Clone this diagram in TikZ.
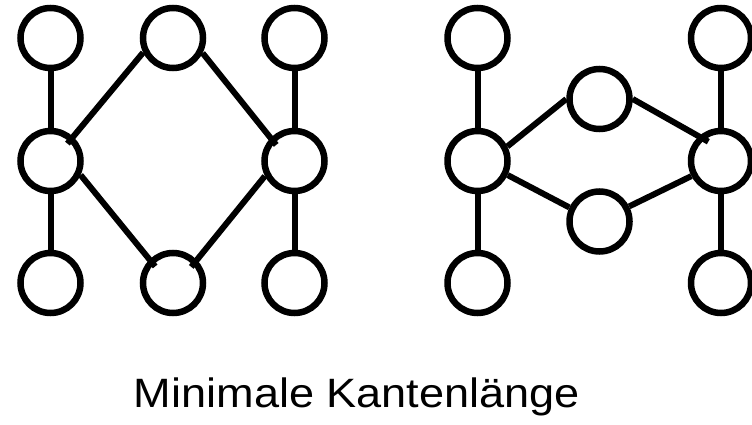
\documentclass[tikz,border=0pt]{standalone}
\usepackage{fontspec}
\setmainfont{Liberation Sans}
\begin{document}
\begin{tikzpicture}[x=1pt,y=1pt]
        \useasboundingbox (0,0) rectangle (752,424);

        \begin{scope}[every node/.style={circle,draw,line width=6.5pt,minimum size=60pt,inner sep=0pt}]
          \node (1)  at (50.5,386)  {};
          \node (2)  at (50.5,263)  {};
          \node (3)  at (50.5,141)  {};
          \node (4)  at (173,386)   {};
          \node (5)  at (173,141)   {};
          \node (6)  at (294.5,386) {};
          \node (7)  at (294.5,263) {};
          \node (8)  at (294.5,141) {};
          \node (9)  at (477.5,386) {};
          \node (10) at (477.5,263) {};
          \node (11) at (477.5,141) {};
          \node (12) at (599.5,325) {};
          \node (13) at (599.5,202.5) {};
          \node (14) at (721,386)   {};
          \node (15) at (721,263)   {};
          \node (16) at (721,141)   {};
        \end{scope}

        \begin{scope}[every edge/.style={draw,line width=6pt}]
          \path (1)  edge (2);
          \path (2)  edge (3);
          \path (6)  edge (7);
          \path (7)  edge (8);
          \path (4.206) edge[shorten >=-9pt] (2.47);
          \path (4.333) edge[shorten >=-9pt] (7.136);
          \path (2.335) edge[shorten >=-9pt] (5.135);
          \path (7.207) edge[shorten >=-9pt] (5.44);
          \path (9)  edge (10);
          \path (10) edge (11);
          \path (14) edge (15);
          \path (15) edge (16);
          \path (10.26)  edge (12.180);
          \path (12.0)   edge[shorten >=-11pt] (15.132);
          \path (10.335) edge (13.155);
          \path (15.207) edge (13.27);
        \end{scope}

        \node (title) at (357,17) [anchor=base] {\scalebox{1.1}[1]{\fontsize{41}{47}\selectfont Minimale Kantenlänge}};

      \end{tikzpicture}
\end{document}
